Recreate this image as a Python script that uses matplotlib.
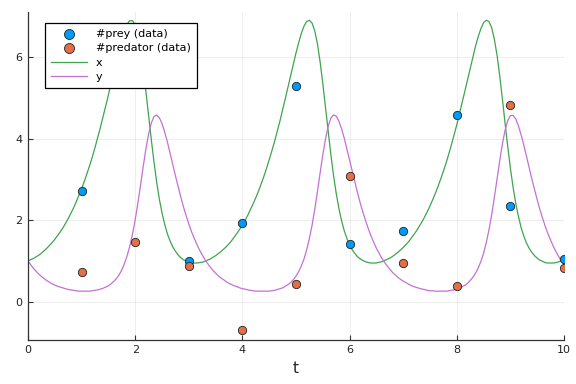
import numpy as np
import matplotlib
matplotlib.use("Agg")
import matplotlib.pyplot as plt

# observed data
t_obs = [1, 2, 3, 4, 5, 6, 7, 8, 9, 10]
prey_obs = [2.71, 6.10, 1.01, 1.93, 5.28, 1.41, 1.73, 4.58, 2.35, 1.05]
pred_obs = [0.735, 1.46, 0.88, -0.70, 0.43, 3.09, 0.96, 0.38, 4.82, 0.83]

# model curves: values at t = 0.0, 0.1, ..., 10.0
t_tenths = [round(0.1 * i, 2) for i in range(101)]
x_tenths = [1.00, 1.06, 1.14, 1.25, 1.38, 1.53, 1.71, 1.92, 2.17, 2.45, 2.77, 3.14, 3.55, 4.02, 4.53, 5.07, 5.64, 6.19, 6.65, 6.89, 6.78,
            6.18, 5.15, 3.98, 2.94, 2.18, 1.67, 1.35, 1.15, 1.03, 0.97, 0.95, 0.96, 0.99, 1.05, 1.13, 1.23, 1.35, 1.50, 1.68, 1.88, 2.12,
            2.40, 2.71, 3.07, 3.48, 3.93, 4.43, 4.98, 5.54, 6.10, 6.58, 6.87, 6.83, 6.32, 5.35, 4.18, 3.10, 2.29, 1.74, 1.39, 1.18, 1.05,
            0.98, 0.95, 0.95, 0.98, 1.04, 1.11, 1.21, 1.33, 1.47, 1.65, 1.85, 2.08, 2.35, 2.66, 3.01, 3.40, 3.85, 4.34, 4.88, 5.44, 6.00,
            6.50, 6.84, 6.87, 6.44, 5.55, 4.38, 3.27, 2.41, 1.82, 1.44, 1.21, 1.07, 0.99, 0.95, 0.95, 0.98, 1.03]
y_tenths = [1.00, 0.82, 0.68, 0.57, 0.48, 0.41, 0.36, 0.32, 0.29, 0.27, 0.26, 0.26, 0.27, 0.29, 0.33, 0.39, 0.50, 0.66, 0.94, 1.37, 2.01,
            2.86, 3.75, 4.38, 4.58, 4.37, 3.92, 3.37, 2.83, 2.33, 1.91, 1.56, 1.27, 1.04, 0.85, 0.70, 0.58, 0.49, 0.42, 0.37, 0.32, 0.29,
            0.27, 0.26, 0.26, 0.26, 0.28, 0.32, 0.38, 0.47, 0.63, 0.88, 1.28, 1.88, 2.70, 3.60, 4.30, 4.58, 4.43, 4.01, 3.47, 2.92, 2.41,
            1.98, 1.61, 1.31, 1.07, 0.88, 0.72, 0.60, 0.51, 0.43, 0.37, 0.33, 0.30, 0.27, 0.26, 0.26, 0.26, 0.28, 0.31, 0.37, 0.45, 0.60,
            0.83, 1.19, 1.76, 2.55, 3.45, 4.20, 4.56, 4.48, 4.09, 3.56, 3.01, 2.50, 2.05, 1.67, 1.36, 1.11, 0.91]

# model curves: values at t = 0.05, 0.15, ..., 9.95
t_mid = [round(0.05 + 0.1 * i, 2) for i in range(100)]
x_mid = [1.03, 1.10, 1.19, 1.31, 1.45, 1.62, 1.81, 2.04, 2.30, 2.61, 2.95, 3.34, 3.78, 4.27, 4.80, 5.36, 5.92, 6.44, 6.81, 6.89,
         6.54, 5.71, 4.56, 3.43, 2.52, 1.90, 1.49, 1.24, 1.08, 1.00, 0.96, 0.95, 0.97, 1.02, 1.09, 1.18, 1.29, 1.42, 1.59, 1.78,
         2.00, 2.26, 2.55, 2.89, 3.27, 3.70, 4.18, 4.70, 5.26, 5.83, 6.35, 6.76, 6.90, 6.64, 5.88, 4.77, 3.61, 2.66, 1.99, 1.55,
         1.27, 1.10, 1.01, 0.96, 0.95, 0.97, 1.01, 1.07, 1.16, 1.27, 1.40, 1.56, 1.74, 1.96, 2.21, 2.50, 2.83, 3.20, 3.62, 4.09,
         4.61, 5.16, 5.73, 6.27, 6.70, 6.90, 6.72, 6.05, 4.98, 3.81, 2.81, 2.09, 1.61, 1.31, 1.13, 1.02, 0.96, 0.95, 0.96, 1.00]
y_mid = [0.91, 0.75, 0.62, 0.52, 0.44, 0.38, 0.34, 0.30, 0.28, 0.26, 0.26, 0.26, 0.28, 0.31, 0.36, 0.44, 0.57, 0.78, 1.13, 1.66,
         2.42, 3.32, 4.11, 4.54, 4.51, 4.16, 3.65, 3.09, 2.57, 2.11, 1.72, 1.41, 1.15, 0.94, 0.77, 0.64, 0.54, 0.45, 0.39, 0.34,
         0.31, 0.28, 0.26, 0.26, 0.26, 0.27, 0.30, 0.34, 0.42, 0.54, 0.74, 1.05, 1.55, 2.27, 3.16, 3.99, 4.50, 4.55, 4.24, 3.74,
         3.19, 2.66, 2.19, 1.79, 1.46, 1.19, 0.97, 0.80, 0.66, 0.55, 0.47, 0.40, 0.35, 0.31, 0.28, 0.27, 0.26, 0.26, 0.27, 0.29,
         0.33, 0.40, 0.52, 0.70, 0.99, 1.45, 2.13, 3.00, 3.86, 4.44, 4.57, 4.31, 3.84, 3.29, 2.75, 2.26, 1.85, 1.51, 1.23, 1.00]

x_ticks = [0, 2, 4, 6, 8, 10]
y_ticks = [0, 2, 4, 6]

# merge the two sample sets in time order
t_all = np.array(t_tenths + t_mid)
order = np.argsort(t_all)
t_curve = t_all[order]
x_curve = np.array(x_tenths + x_mid)[order]
y_curve = np.array(y_tenths + y_mid)[order]

plt.rcParams['font.family'] = ['DejaVu Sans']
fig = plt.figure(figsize=(5.76, 3.84), dpi=100)
ax = fig.add_axes([28/576, 1 - 339.7/384, (564 - 28)/576, (339.7 - 11.7)/384])

ax.scatter(t_obs, prey_obs, s=36, color='#009AFA', edgecolors='#222222', linewidths=0.6, zorder=3, label='#prey (data)')
ax.scatter(t_obs, pred_obs, s=36, color='#E36F47', edgecolors='#222222', linewidths=0.6, zorder=3, label='#predator (data)')
ax.plot(t_curve, x_curve, color='#3EA44E', lw=0.9, zorder=2, label='x')
ax.plot(t_curve, y_curve, color='#C371D2', lw=0.9, zorder=2, label='y')

ax.set_xlim(0, 10)
ax.set_ylim(-0.93, 7.11)
ax.set_xticks(x_ticks)
ax.set_yticks(y_ticks)
ax.grid(True, color='#000000', alpha=0.08, lw=0.6)
ax.set_axisbelow(True)
for s in ['top', 'right']:
    ax.spines[s].set_visible(False)
for s in ['left', 'bottom']:
    ax.spines[s].set_color('#333333')
    ax.spines[s].set_linewidth(0.9)
ax.tick_params(direction='in', length=3.5, width=0.8, color='#333333', labelsize=8, labelcolor='#222222', pad=4)
ax.set_xlabel('t', fontsize=11, color='#222222', labelpad=4)

leg = ax.legend(loc='upper left', bbox_to_anchor=(45/576, 1 - 23/384), bbox_transform=fig.transFigure,
                borderaxespad=0, fontsize=8, frameon=True, fancybox=False, edgecolor='#000000',
                framealpha=1, handlelength=3.2, handletextpad=0.8, borderpad=0.55, labelspacing=0.38,
                markerscale=1.2)
leg.get_frame().set_linewidth(0.9)
leg.set_zorder(10)

fig.savefig('out.png', dpi=100)
